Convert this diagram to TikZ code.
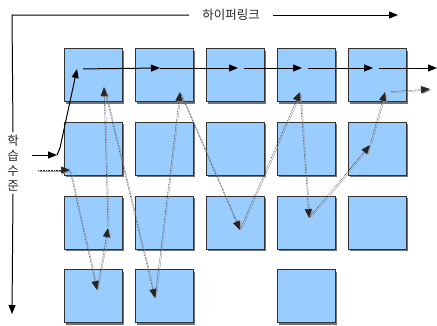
\documentclass[tikz,border=0pt]{standalone}
\usepackage{fontspec}
\newfontfamily\kr{Noto Sans CJK KR}
\usepackage{tikz}
\usetikzlibrary{arrows.meta,shadows}
\definecolor{feld}{RGB}{153,204,255}

\begin{document}
\begin{tikzpicture}[x=1pt,y=-1pt,
  kasten/.style={draw=black!80,line width=0.8pt,fill=feld,minimum width=58pt,minimum height=53pt,inner sep=0pt,
    drop shadow={shadow xshift=2pt,shadow yshift=-2pt,fill=black!55,opacity=1}},
  pfeil/.style={line width=1pt,-{Triangle[length=9pt,width=7pt]}},
  sprung/.style={densely dotted,line width=0.6pt,draw=black!85,shorten <=2pt,-{Triangle[length=9pt,width=7pt]},
    preaction={draw=black!40,transform canvas={shift={(1.2pt,-1pt)}}}},
  schrift/.style={font=\kr\fontsize{12.5}{14.8}\selectfont,text=black!85}]
\useasboundingbox (0,0) rectangle (437,325);
%Kaesten: drei volle Reihen und eine halbe
\foreach \r/\y in {1/75,2/148.7,3/222.5}
  \foreach \c/\x in {1/93,2/164,3/235,4/306,5/377}
    \node[kasten] (b\r\c) at (\x,\y) {};
\foreach \c/\x in {1/93,2/164,4/306}
  \node[kasten] (b4\c) at (\x,296) {};
%Achsen
\coordinate (ecke) at (12,15);
\node[schrift,inner xsep=13pt,inner ysep=0pt] (hyper) at (231,15) {하이퍼링크};
\node[schrift,align=center,inner xsep=0pt,inner ysep=3pt] (stufe) at (13,163) {학\\습\\수\\준};
\coordinate (xende) at (398,15);
\coordinate (yende) at (12,314);
\draw[line width=1pt] (hyper.west) -- (ecke) -- (stufe.north);
\draw[pfeil] (hyper.east) -- (xende);
\draw[pfeil] (stufe.south) -- (yende);
%Einstieg und Kette durch die erste Reihe
\coordinate (ein) at (32,155);
\coordinate (knick) at (57,155);
\coordinate (h0) at (77,69);
\coordinate (h1) at (160,68);
\coordinate (h2) at (238,68);
\coordinate (h3) at (302,68);
\coordinate (h4) at (373,68);
\coordinate (h5) at (437,68);
\draw[pfeil] (ein) -- (knick);
\draw[pfeil] (knick) -- ++(3,-7) -- (h0);
\draw[pfeil,shorten <=6pt] (h0) -- (h1);
\draw[pfeil] (h1) -- (h2);
\foreach \a/\b in {h2/h3,h3/h4,h4/h5}
  \draw[pfeil,shorten <=6pt] (\a) -- (\b);
%Spruenge ueber die Ebenen
\coordinate (s0) at (38,170);
\coordinate (s1) at (70,170);
\coordinate (s2) at (97,290);
\coordinate (s3) at (108,228);
\coordinate (s4) at (104,87);
\coordinate (s5) at (155,298);
\coordinate (s6) at (180,92);
\coordinate (s7) at (240,230);
\coordinate (s8) at (300,92);
\coordinate (s9) at (309,218);
\coordinate (s10) at (370,145);
\coordinate (s11) at (385,92);
\coordinate (s12) at (430,89);
\draw[sprung,shorten <=0pt] (s0) -- (s1);
\foreach \a/\b in {s1/s2,s2/s3,s3/s4,s4/s5,s5/s6,s6/s7,s7/s8,s8/s9,s9/s10,s10/s11}
  \draw[sprung] (\a) -- (\b);
\draw[sprung,shorten <=6pt] (s11) -- (s12);
\end{tikzpicture}
\end{document}
